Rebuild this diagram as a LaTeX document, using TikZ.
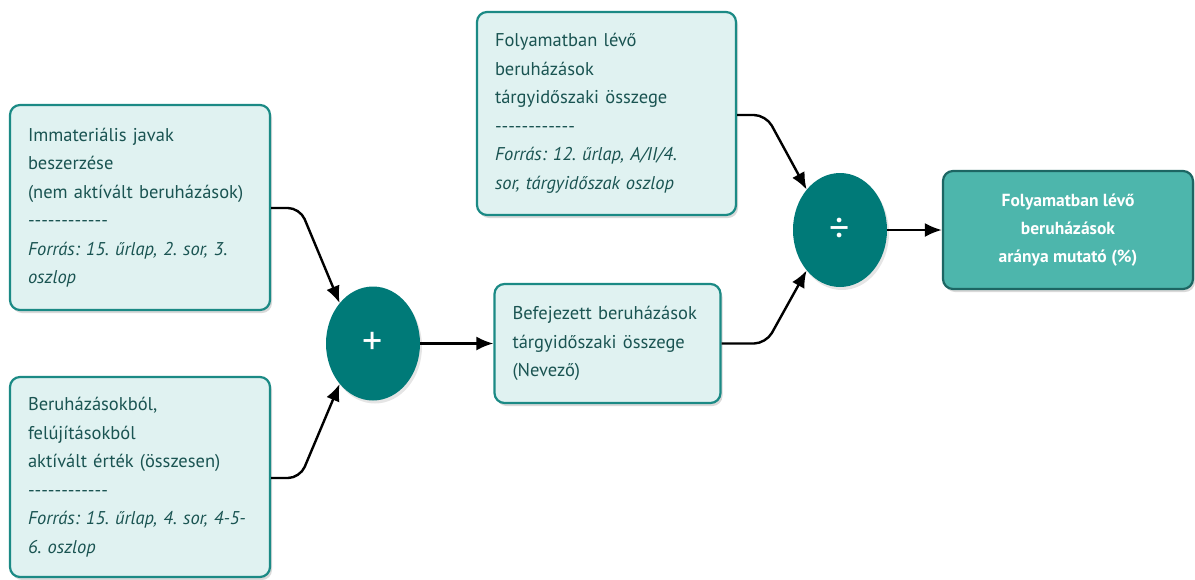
\documentclass[tikz,border=0pt]{standalone}
\usepackage{fontspec}
\setmainfont{PT Sans}
\usetikzlibrary{arrows.meta,shapes.geometric,shadows}
\frenchspacing
\definecolor{boxfill}{HTML}{E0F2F1}
\definecolor{boxline}{HTML}{1B8A85}
\definecolor{boxtext}{HTML}{1A5452}
\definecolor{opfill}{HTML}{007A78}
\definecolor{resfill}{HTML}{4DB6AC}
\definecolor{resline}{HTML}{1D6663}
% separator line of twelve plain hyphens
\newcommand{\sepline}{-{}-{}-{}-{}-{}-{}-{}-{}-{}-{}-{}-}
\tikzset{
  srcbox/.style={draw=boxline, line width=2.2pt, fill=boxfill, rounded corners=10pt,
    inner xsep=18pt, inner ysep=0pt, align=left, text=boxtext,
    font=\fontsize{18.5}{28.5}\selectfont,
    drop shadow={shadow xshift=2pt, shadow yshift=-3pt, opacity=0.15, fill=black}},
  opnode/.style={ellipse, fill=opfill, minimum width=94pt, minimum height=114pt,
    text=white, font=\fontsize{40}{40}\selectfont,
    drop shadow={shadow xshift=2pt, shadow yshift=-3pt, opacity=0.10, fill=black}},
  resbox/.style={draw=resline, line width=2.2pt, fill=resfill, rounded corners=10pt,
    align=center, text=white, font=\fontsize{17.5}{28}\selectfont\bfseries,
    drop shadow={shadow xshift=2pt, shadow yshift=-3pt, opacity=0.15, fill=black}},
  link/.style={line width=2.4pt, -{Latex[length=17pt,width=14pt]}, rounded corners=12pt}
}
\begin{document}
\begin{tikzpicture}[x=1pt,y=-1pt]
\useasboundingbox (0,0) rectangle (1195,579);

\node[srcbox, minimum width=260pt, minimum height=205pt, text width=224pt] (imm) at (140,207.5)
  {Immateriális javak\\beszerzése\\(nem aktívált beruházások)\\\sepline\\
   \textit{Forrás: 15. űrlap, 2. sor, 3.}\\\textit{oszlop}};
\node[srcbox, minimum width=260pt, minimum height=200pt, text width=224pt] (akt) at (140,477)
  {Beruházásokból,\\felújításokból\\aktívált érték (összesen)\\\sepline\\
   \textit{Forrás: 15. űrlap, 4. sor, 4-5-}\\\textit{6. oszlop}};
\node[srcbox, minimum width=259pt, minimum height=203pt, text width=223pt] (foly) at (606.5,113.5)
  {Folyamatban lévő\\beruházások\\tárgyidőszaki összege\\\sepline\\
   \textit{Forrás: 12. űrlap, A/II/4.}\\\textit{sor, tárgyidőszak oszlop}};
\node[srcbox, minimum width=225pt, minimum height=119pt, text width=190pt] (bef) at (607.5,343.5)
  {Befejezett beruházások\\tárgyidőszaki összege\\(Nevező)};

\node[opnode] (plus) at (373,343.5) {+};
\node[opnode] (div) at (840,230) {÷};

\node[resbox, minimum width=250pt, minimum height=118pt] (res) at (1068,230)
  {Folyamatban lévő\\beruházások\\aránya mutató (\%)};

\draw[link] (imm.east |- 0,208) -- (300,208) -- (plus.north west);
\draw[link] (akt.east |- 0,478) -- (300,478) -- (plus.south west);
\draw[link] (plus.east) -- (bef.west);
\draw[link] (foly.east |- 0,115) -- (766,115) -- (div.north west);
\draw[link] (bef.east) -- (766,343.5) -- (div.south west);
\draw[link] (div.east) -- (res.west);
\end{tikzpicture}
\end{document}
